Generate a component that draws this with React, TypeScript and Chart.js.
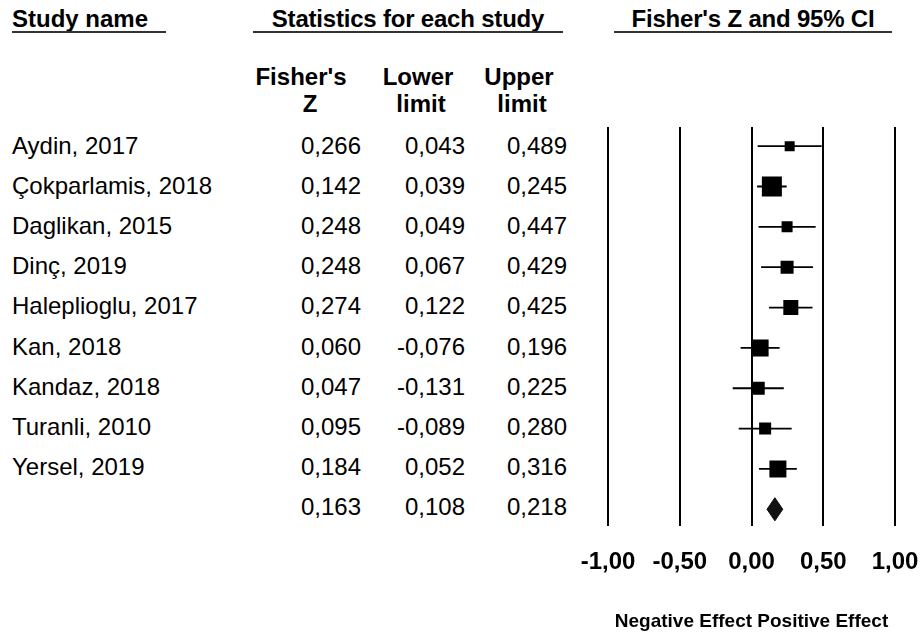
import React, { useEffect, useRef } from 'react';
import { Chart, registerables } from 'chart.js';

Chart.register(...registerables);

const studyNames = [
  'Aydin, 2017',
  'Çokparlamis, 2018',
  'Daglikan, 2015',
  'Dinç, 2019',
  'Haleplioglu, 2017',
  'Kan, 2018',
  'Kandaz, 2018',
  'Turanli, 2010',
  'Yersel, 2019',
];
const fisherZ = [0.266, 0.142, 0.248, 0.248, 0.274, 0.06, 0.047, 0.095, 0.184];
const lowerLimit = [0.043, 0.039, 0.049, 0.067, 0.122, -0.076, -0.131, -0.089, 0.052];
const upperLimit = [0.489, 0.245, 0.447, 0.429, 0.425, 0.196, 0.225, 0.28, 0.316];
// relative box size (weight) of each study
const relativeWeight = [10, 20, 11, 13, 15, 17, 13, 12, 17];
const summaryZ = 0.163;
const summaryLower = 0.108;
const summaryUpper = 0.218;
const xTickValues = [-1, -0.5, 0, 0.5, 1];
const xTickLabels = ['-1,00', '-0,50', '0,00', '0,50', '1,00'];

const FONT = "'Liberation Sans', Arial, Helvetica, sans-serif";
const fmt = (v: number) => v.toFixed(3).replace('.', ',');

const ROW0 = 126;
const ROWH = 40.1;

export default function App() {
  const ref = useRef<HTMLCanvasElement>(null);

  useEffect(() => {
    if (!ref.current) return;
    const datasets: any[] = [];
    datasets.push({
      type: 'scatter',
      data: fisherZ.map((z, i) => ({ x: z, y: i })),
      pointStyle: 'rect',
      pointRadius: relativeWeight.map((w) => w / Math.SQRT2),
      pointHoverRadius: relativeWeight.map((w) => w / Math.SQRT2),
      backgroundColor: '#000',
      borderWidth: 0,
      order: 0,
    });
    fisherZ.forEach((_, i) => {
      datasets.push({
        type: 'line',
        data: [
          { x: lowerLimit[i], y: i },
          { x: upperLimit[i], y: i },
        ],
        borderColor: '#000',
        borderWidth: 1.8,
        pointRadius: 0,
        fill: false,
        order: 1,
      });
    });
    const sy = studyNames.length;
    const dh = 0.287;
    datasets.push({
      type: 'line',
      data: [
        { x: summaryLower, y: sy },
        { x: summaryZ, y: sy - dh },
        { x: summaryUpper, y: sy },
        { x: summaryZ, y: sy + dh },
        { x: summaryLower, y: sy },
      ],
      borderColor: '#111',
      backgroundColor: '#111',
      borderWidth: 1,
      pointRadius: 0,
      fill: 'shape',
      tension: 0,
      order: 0,
    });

    const chart = new Chart(ref.current, {
      type: 'scatter',
      data: { datasets },
      options: {
        animation: false,
        responsive: false,
        devicePixelRatio: 1,
        events: [],
        layout: { padding: { left: 50, right: 46, top: 27, bottom: 0 } },
        plugins: { legend: { display: false }, tooltip: { enabled: false } },
        scales: {
          x: {
            type: 'linear',
            min: -1,
            max: 1,
            afterBuildTicks: (s: any) => {
              s.ticks = xTickValues.map((v) => ({ value: v }));
            },
            ticks: {
              callback: (_v: any, i: number) => xTickLabels[i],
              font: { family: FONT, size: 24, weight: 'bold' },
              color: '#000',
              padding: 22,
              maxRotation: 0,
              autoSkip: false,
            },
            grid: { color: '#000', lineWidth: 2, drawTicks: false },
            border: { display: false },
            title: {
              display: true,
              text: 'Negative Effect Positive Effect',
              font: { family: FONT, size: 19, weight: 'bold' },
              color: '#000',
              padding: { top: 11, bottom: 4 },
            },
          },
          y: {
            type: 'linear',
            display: false,
            min: -0.474,
            max: 9.424,
            reverse: true,
          },
        },
      } as any,
    });
    return () => chart.destroy();
  }, []);

  const hdr: React.CSSProperties = {
    position: 'absolute',
    fontWeight: 'bold',
    fontSize: 24,
    lineHeight: '30px',
    whiteSpace: 'nowrap',
  };
  const line = (left: number, width: number): React.CSSProperties => ({
    position: 'absolute',
    left,
    top: 31,
    width,
    height: 2,
    background: '#333',
  });
  const sub = (center: number, top: number): React.CSSProperties => ({
    position: 'absolute',
    left: center - 60,
    width: 120,
    top,
    textAlign: 'center',
    fontWeight: 'bold',
    fontSize: 24,
    lineHeight: '27.5px',
    whiteSpace: 'nowrap',
  });
  const cell = (right: number, i: number): React.CSSProperties => ({
    position: 'absolute',
    left: right - 100,
    width: 100,
    top: ROW0 + i * ROWH,
    textAlign: 'right',
    fontSize: 24,
    lineHeight: '40px',
    whiteSpace: 'nowrap',
  });

  const rows = studyNames.map((n, i) => ({ name: n, z: fisherZ[i], lo: lowerLimit[i], hi: upperLimit[i] }));
  rows.push({ name: '', z: summaryZ, lo: summaryLower, hi: summaryUpper });

  return (
    <div
      style={{
        position: 'absolute',
        left: 0,
        top: 0,
        width: 923,
        height: 637,
        background: '#fff',
        color: '#000',
        fontFamily: FONT,
        overflow: 'hidden',
      }}
    >
      <div style={{ ...hdr, left: 12, top: 4 }}>Study name</div>
      <div style={line(12, 154)} />
      <div style={{ ...hdr, left: 208, width: 400, top: 4, textAlign: 'center', letterSpacing: '-0.2px' }}>Statistics for each study</div>
      <div style={line(253, 310)} />
      <div style={{ ...hdr, left: 553, width: 400, top: 4, textAlign: 'center', letterSpacing: '-0.2px' }}>Fisher's Z and 95% CI</div>
      <div style={line(614, 278)} />

      <div style={sub(301, 62.5)}>Fisher's</div>
      <div style={sub(310, 90)}>Z</div>
      <div style={sub(418, 62.5)}>Lower</div>
      <div style={sub(421, 90)}>limit</div>
      <div style={sub(519, 62.5)}>Upper</div>
      <div style={sub(522, 90)}>limit</div>

      {rows.map((r, i) => (
        <React.Fragment key={i}>
          <div
            style={{
              position: 'absolute',
              left: 12,
              top: ROW0 + i * ROWH,
              fontSize: 24,
              lineHeight: '40px',
              whiteSpace: 'nowrap',
            }}
          >
            {r.name}
          </div>
          <div style={cell(361, i)}>{fmt(r.z)}</div>
          <div style={cell(465, i)}>{fmt(r.lo)}</div>
          <div style={cell(567, i)}>{fmt(r.hi)}</div>
        </React.Fragment>
      ))}

      <canvas
        ref={ref}
        width={383}
        height={537}
        style={{ position: 'absolute', left: 558, top: 100, width: 383, height: 537 }}
      />
    </div>
  );
}
